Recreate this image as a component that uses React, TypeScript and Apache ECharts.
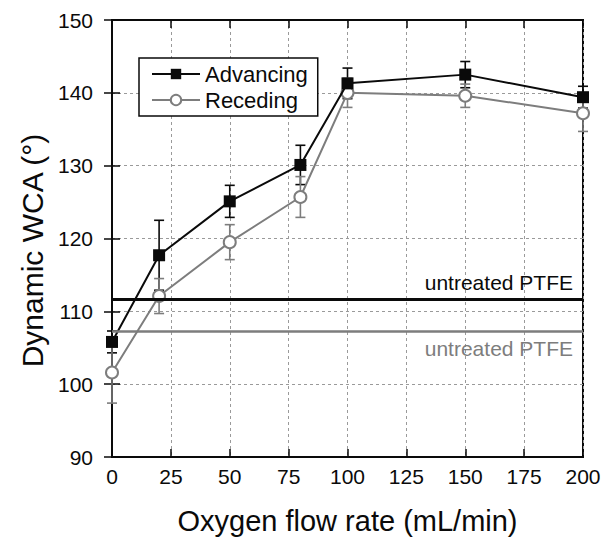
import React, { useEffect, useRef } from "react";
import * as echarts from "echarts";

const xValues = [0, 20, 50, 80, 100, 150, 200];
const advancing = [105.8, 117.7, 125.1, 130.1, 141.3, 142.5, 139.4];
const advancingErr = [1.5, 4.8, 2.2, 2.7, 2.1, 1.8, 1.5];
const receding = [101.6, 112.1, 119.5, 125.7, 140.0, 139.6, 137.2];
const recedingErr = [4.2, 2.4, 2.4, 2.8, 2.0, 1.6, 2.5];
const untreatedAdvancing = 111.7;
const untreatedReceding = 107.2;
const xTicks = { min: 0, max: 200, interval: 25 };
const yTicks = { min: 90, max: 150, interval: 10 };

const FONT = "'Liberation Sans', Arial, sans-serif";
const BLACK = "#0a0a0a";
const GRAY = "#7d7d7d";

function errorSeries(name: string, ys: number[], errs: number[], color: string) {
  return {
    type: "custom",
    name,
    z: 1,
    silent: true,
    data: xValues.map((x, i) => [x, ys[i], errs[i]]),
    renderItem: (params: any, api: any) => {
      const x = api.value(0);
      const y = api.value(1);
      const e = api.value(2);
      const top = api.coord([x, y + e]);
      const bot = api.coord([x, y - e]);
      const hw = 5;
      const style = { stroke: color, lineWidth: 1.6 };
      return {
        type: "group",
        children: [
          { type: "line", shape: { x1: top[0], y1: top[1], x2: bot[0], y2: bot[1] }, style },
          { type: "line", shape: { x1: top[0] - hw, y1: top[1], x2: top[0] + hw, y2: top[1] }, style },
          { type: "line", shape: { x1: bot[0] - hw, y1: bot[1], x2: bot[0] + hw, y2: bot[1] }, style },
        ],
      };
    },
  };
}

export default function App() {
  const ref = useRef<HTMLDivElement>(null);
  useEffect(() => {
    document.body.style.margin = "0";
    const chart = echarts.init(ref.current!, null, { renderer: "svg" });
    const splitLine = { show: true, lineStyle: { color: "#9a9a9a", type: [3, 3], width: 1 } };
    const axisLabel = { fontSize: 21, color: BLACK, fontFamily: FONT };
    chart.setOption({
      animation: false,
      backgroundColor: "#ffffff",
      grid: {
        left: 112,
        right: 29,
        top: 20,
        bottom: 85,
        show: true,
        borderColor: BLACK,
        borderWidth: 2,
      },
      legend: {
        data: ["Advancing", "Receding"],
        orient: "vertical",
        left: 139,
        top: 58,
        padding: [5, 10, 5, 12],
        itemGap: 4,
        itemWidth: 48,
        itemHeight: 13,
        borderColor: BLACK,
        borderWidth: 1.5,
        backgroundColor: "#fff",
        textStyle: { fontSize: 22, color: BLACK, fontFamily: FONT },
      },
      xAxis: [
        {
          type: "value",
          min: xTicks.min,
          max: xTicks.max,
          interval: xTicks.interval,
          name: "Oxygen flow rate (mL/min)",
          nameLocation: "middle",
          nameGap: 49,
          nameTextStyle: { fontSize: 29, color: BLACK, fontFamily: FONT },
          axisLine: { show: true, lineStyle: { color: BLACK, width: 2 } },
          axisTick: { show: true, inside: true, length: 8, lineStyle: { color: BLACK, width: 1.5 } },
          axisLabel: { ...axisLabel, margin: 9 },
          splitLine,
        },
        {
          type: "value",
          position: "top",
          min: xTicks.min,
          max: xTicks.max,
          interval: xTicks.interval,
          axisLine: { show: true, lineStyle: { color: BLACK, width: 2 } },
          axisTick: { show: true, inside: true, length: 8, lineStyle: { color: BLACK, width: 1.5 } },
          axisLabel: { show: false },
          splitLine: { show: false },
        },
      ],
      yAxis: [
        {
          type: "value",
          min: yTicks.min,
          max: yTicks.max,
          interval: yTicks.interval,
          name: "Dynamic WCA (°)",
          nameLocation: "middle",
          nameGap: 65,
          nameTextStyle: { fontSize: 30, color: BLACK, fontFamily: FONT, padding: [0, 24, 0, 0] },
          axisLine: { show: true, lineStyle: { color: BLACK, width: 2 } },
          axisTick: { show: true, inside: true, length: 8, lineStyle: { color: BLACK, width: 1.5 } },
          axisLabel: { ...axisLabel, margin: 19 },
          splitLine,
        },
        {
          type: "value",
          position: "right",
          min: yTicks.min,
          max: yTicks.max,
          interval: yTicks.interval,
          axisLine: { show: true, lineStyle: { color: BLACK, width: 2 } },
          axisTick: { show: true, inside: true, length: 8, lineStyle: { color: BLACK, width: 1.5 } },
          axisLabel: { show: false },
          splitLine: { show: false },
        },
      ],
      series: [
        errorSeries("advErr", advancing, advancingErr, BLACK),
        errorSeries("recErr", receding, recedingErr, GRAY),
        {
          type: "line",
          name: "Receding",
          z: 3,
          data: xValues.map((x, i) => [x, receding[i]]),
          lineStyle: { color: GRAY, width: 2 },
          itemStyle: { color: "#ffffff", borderColor: GRAY, borderWidth: 2 },
          symbol: "circle",
          symbolSize: 12,
          showAllSymbol: true,
          markLine: {
            silent: true,
            symbol: "none",
            data: [
              {
                yAxis: untreatedReceding,
                lineStyle: { color: GRAY, width: 2.5, type: "solid" },
                label: {
                  show: true,
                  position: "insideEndBottom",
                  formatter: "untreated PTFE",
                  fontSize: 21,
                  color: GRAY,
                  fontFamily: FONT,
                  distance: [10, 6],
                },
              },
            ],
          },
        },
        {
          type: "line",
          name: "Advancing",
          z: 4,
          data: xValues.map((x, i) => [x, advancing[i]]),
          lineStyle: { color: BLACK, width: 2 },
          itemStyle: { color: BLACK, borderColor: BLACK, borderWidth: 0 },
          symbol: "rect",
          symbolSize: 12,
          showAllSymbol: true,
          markLine: {
            silent: true,
            symbol: "none",
            data: [
              {
                yAxis: untreatedAdvancing,
                lineStyle: { color: BLACK, width: 3, type: "solid" },
                label: {
                  show: true,
                  position: "insideEndTop",
                  formatter: "untreated PTFE",
                  fontSize: 21,
                  color: BLACK,
                  fontFamily: FONT,
                  distance: [10, 6],
                },
              },
            ],
          },
        },
      ],
    });
    return () => chart.dispose();
  }, []);
  return (
    <div
      ref={ref}
      style={{ width: 612, height: 542, position: "fixed", left: 0, top: 0 }}
    />
  );
}
